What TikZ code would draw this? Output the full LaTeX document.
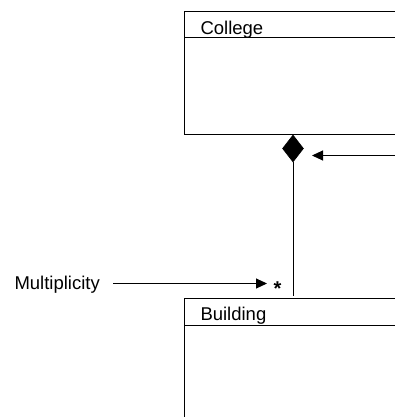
\documentclass[tikz,border=0pt]{standalone}
\usepackage{fontspec}
\setmainfont{Liberation Sans}
\usetikzlibrary{shapes.geometric,arrows.meta}
\begin{document}
\begin{tikzpicture}[x=1pt,y=-1pt,
  line width=1pt,
  classbox/.style={draw, rectangle, anchor=north west, inner sep=0, minimum width=240pt},
  classname/.style={anchor=base west, inner sep=0, font=\fontsize{18.5}{22}\selectfont},
  lbl/.style={anchor=base west, inner sep=0, font=\fontsize{18.5}{22}\selectfont},
  composite/.style={diamond, fill=black, draw, line width=0.6pt, inner sep=0, minimum width=21pt, minimum height=27pt},
  pointer/.style={-{Triangle[length=11pt,width=10pt]}}
]
\useasboundingbox (0,0) rectangle (395,417);

% College class: name compartment and body
\node[classbox, minimum height=123pt] (college) at (184,11) {};
\draw ([yshift=-27pt]college.north west) -- ([yshift=-27pt]college.north east);
\node[classname] (collegeName) at (200,35) {College};

% Building class
\node[classbox, minimum height=140pt] (building) at (184,298) {};
\draw ([yshift=-27pt]building.north west) -- ([yshift=-27pt]building.north east);
\node[classname] (buildingName) at (200,320) {Building};

% composition: filled diamond on the whole side
\node[composite] (whole) at (293,148.5) {};
\coordinate (partEnd) at (293,296);
\draw (whole.south) -- (partEnd);

% pointer to the diamond
\coordinate (diamondNoteFrom) at (400,155.5);
\coordinate (diamondNoteTo) at (312,155.5);
\draw[pointer] (diamondNoteFrom) -- (diamondNoteTo);

% multiplicity label and its pointer
\node[lbl] (mult) at (14,289) {Multiplicity};
\node[inner sep=0, font=\fontsize{20}{22}\selectfont\bfseries] (star) at (277.5,289) {*};
\coordinate (multFrom) at (113,283.5);
\coordinate (multTo) at (267,283.5);
\draw[pointer] (multFrom) -- (multTo);
\end{tikzpicture}
\end{document}
